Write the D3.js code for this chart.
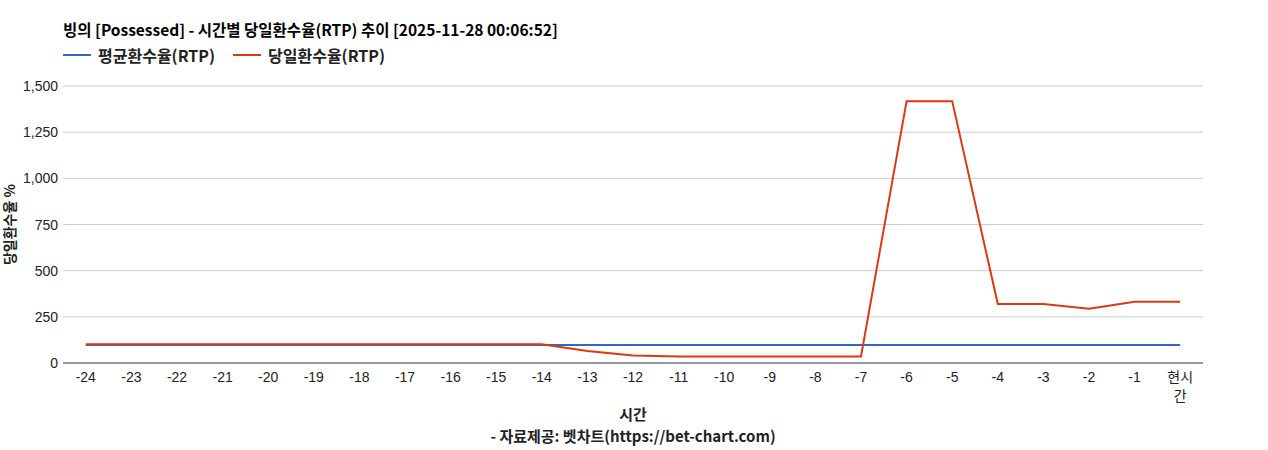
<!DOCTYPE html>
<html>
<head>
<meta charset="utf-8">
<script src="https://cdn.jsdelivr.net/npm/d3@7"></script>
<style>
  body { margin: 0; background: #fff; }
  text { font-family: "Liberation Sans", Arial, sans-serif; }
  .ko { font-family: "Noto Sans CJK KR", "Liberation Sans", sans-serif; }
</style>
</head>
<body>
<div id="chart"></div>
<script>
// 데이터
const categories = ["-24","-23","-22","-21","-20","-19","-18","-17","-16","-15","-14","-13","-12","-11","-10","-9","-8","-7","-6","-5","-4","-3","-2","-1","현시간"];
const avgRtp = [97,97,97,97,97,97,97,97,97,97,97,97,97,97,97,97,97,97,97,97,97,97,97,97,97];
const dayRtp = [102,102,102,102,102,102,102,102,102,102,102,65,40,35,35,35,35,35,1418,1418,319,319,294,332,332];
const yTicks = [0,250,500,750,1000,1250,1500];
const seriesNames = ["평균환수율(RTP)", "당일환수율(RTP)"];
const colors = ["#3366cc", "#dc3912"];

const width = 1268, height = 450;
const margin = {left: 63, right: 65, top: 86, bottom: 87};

const svg = d3.select("#chart").append("svg")
    .attr("width", width)
    .attr("height", height);

const x = d3.scalePoint()
    .domain(categories)
    .range([margin.left, width - margin.right])
    .padding(0.5);

const y = d3.scaleLinear()
    .domain([0, 1500])
    .range([height - margin.bottom, margin.top]);

// 그리드
svg.append("g")
    .selectAll("line")
    .data(yTicks.slice(1))
    .join("line")
    .attr("x1", margin.left)
    .attr("x2", width - margin.right)
    .attr("y1", d => y(d))
    .attr("y2", d => y(d))
    .attr("stroke", "#cccccc")
    .attr("stroke-width", 1);

// y축 라벨
svg.append("g")
    .selectAll("text")
    .data(yTicks)
    .join("text")
    .attr("x", margin.left - 5)
    .attr("y", d => y(d))
    .attr("text-anchor", "end")
    .attr("dominant-baseline", "central")
    .attr("font-size", 14)
    .attr("fill", "#222")
    .text(d => d3.format(",")(d));

// x축 라벨
const xLabels = svg.append("g")
    .selectAll("text")
    .data(categories)
    .join("text")
    .attr("x", d => x(d))
    .attr("y", height - margin.bottom + 19)
    .attr("text-anchor", "middle")
    .attr("font-size", 14)
    .attr("fill", "#222");

xLabels.each(function (d) {
    const t = d3.select(this);
    if (d === "현시간") {
        t.attr("class", "ko");
        t.append("tspan").attr("x", x(d)).text("현시");
        t.append("tspan").attr("x", x(d)).attr("dy", 19).text("간");
    } else {
        t.text(d);
    }
});

// 라인
const line = d3.line()
    .x((d, i) => x(categories[i]))
    .y(d => y(d));

[avgRtp, dayRtp].forEach((vals, i) => {
    svg.append("path")
        .datum(vals)
        .attr("fill", "none")
        .attr("stroke", colors[i])
        .attr("stroke-width", 2)
        .attr("d", line);
});

// 기준선
svg.append("line")
    .attr("x1", margin.left)
    .attr("x2", width - margin.right)
    .attr("y1", y(0))
    .attr("y2", y(0))
    .attr("stroke", "#333")
    .attr("stroke-width", 1);

// 제목
svg.append("text")
    .attr("class", "ko")
    .attr("x", 63)
    .attr("y", 36)
    .attr("font-size", 15.5)
    .attr("font-weight", "bold")
    .attr("fill", "#000")
    .text("빙의 [Possessed] - 시간별 당일환수율(RTP) 추이 [2025-11-28 00:06:52]");

// 범례
const legendX = [63, 233];
seriesNames.forEach((name, i) => {
    const g = svg.append("g").attr("transform", `translate(${legendX[i]},55)`);
    g.append("line")
        .attr("x1", 0).attr("x2", 28)
        .attr("stroke", colors[i])
        .attr("stroke-width", 2);
    g.append("text")
        .attr("class", "ko")
        .attr("x", 35)
        .attr("dominant-baseline", "central")
        .attr("font-size", 16)
        .attr("font-weight", "bold")
        .attr("fill", "#222")
        .text(name);
});

// 축 제목
svg.append("text")
    .attr("class", "ko")
    .attr("transform", `translate(15,${(y(0) + y(1500)) / 2}) rotate(-90)`)
    .attr("text-anchor", "middle")
    .attr("font-size", 14)
    .attr("font-weight", "bold")
    .attr("fill", "#222")
    .text("당일환수율 %");

svg.append("text")
    .attr("class", "ko")
    .attr("x", (margin.left + width - margin.right) / 2)
    .attr("y", 420)
    .attr("text-anchor", "middle")
    .attr("font-size", 15)
    .attr("font-weight", "bold")
    .attr("fill", "#222")
    .text("시간");

svg.append("text")
    .attr("class", "ko")
    .attr("x", (margin.left + width - margin.right) / 2)
    .attr("y", 442)
    .attr("text-anchor", "middle")
    .attr("font-size", 15)
    .attr("font-weight", "bold")
    .attr("fill", "#222")
    .text("- 자료제공: 벳차트(https://bet-chart.com)");
</script>
</body>
</html>
